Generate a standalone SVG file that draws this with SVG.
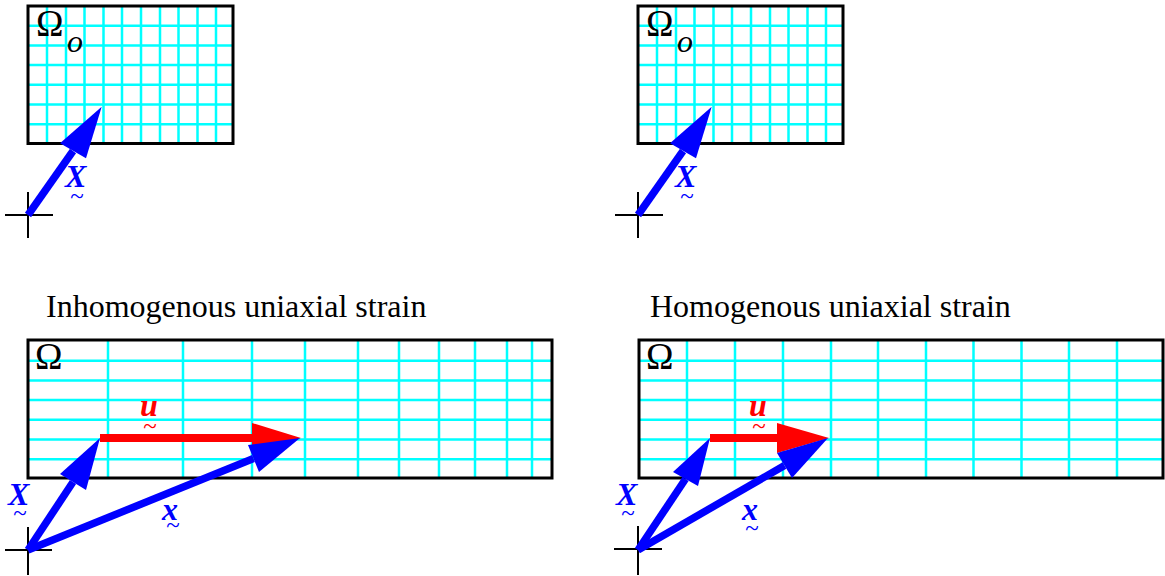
<svg xmlns="http://www.w3.org/2000/svg" width="1165" height="576" viewBox="0 0 1165 576">
<style>
.grid{stroke:#00ffff;stroke-width:2.5;fill:none}
.box{stroke:#000;stroke-width:3;fill:none}
.axis{stroke:#000;stroke-width:2;fill:none}
.bshaft{stroke:#0000ff;stroke-width:7.5;fill:none;stroke-linecap:butt}
.rshaft{stroke:#ff0000;stroke-width:8;fill:none}
.bhead{fill:#0000ff}
.rhead{fill:#ff0000}
.title{font-family:"Liberation Serif",serif;font-size:32px;fill:#000}
.omega{font-family:"Liberation Serif",serif;font-size:37px;fill:#000}
.sub{font-family:"Liberation Serif",serif;font-size:32px;font-style:italic;fill:#000}
.vb{font-family:"Liberation Serif",serif;font-size:32px;font-style:italic;font-weight:bold;fill:#0000ff}
.vr{font-family:"Liberation Serif",serif;font-size:32px;font-style:italic;font-weight:bold;fill:#ff0000}
.tl{font-size:25px;font-style:normal;font-weight:normal;text-anchor:middle}
</style>
<rect width="1165" height="576" fill="#fff"/>

<g id="ref-left">
  <g class="grid">
    <path d="M47,6V143M66,6V143M84.5,6V143M103.5,6V143M122,6V143M141,6V143M160,6V143M178.5,6V143M197.5,6V143M216,6V143"/>
    <path d="M28,25.7H233M28,45.4H233M28,65.1H233M28,84.8H233M28,104.5H233M28,124.2H233"/>
  </g>
  <rect class="box" x="28" y="6" width="205" height="137.5"/>
  <text class="omega" x="36" y="36">Ω<tspan class="sub" x="67" y="52">o</tspan></text>
</g>

<g id="ref-right">
  <g class="grid">
    <path d="M657,6V143M676,6V143M694.5,6V143M713.5,6V143M732,6V143M751,6V143M770,6V143M788.5,6V143M807.5,6V143M826,6V143"/>
    <path d="M638,25.7H843M638,45.4H843M638,65.1H843M638,84.8H843M638,104.5H843M638,124.2H843"/>
  </g>
  <rect class="box" x="638" y="6" width="205" height="137.5"/>
  <text class="omega" x="646" y="36">Ω<tspan class="sub" x="677" y="52">o</tspan></text>
</g>

<g id="inhomog">
  <text class="title" x="46" y="317">Inhomogenous uniaxial strain</text>
  <g class="grid">
    <path d="M108,340V478M183,340V478M252,340V478M305,340V478M358,340V478M399,340V478M439,340V478M475,340V478M507,340V478M532,340V478"/>
    <path d="M28,360.7H552M28,380.4H552M28,400.1H552M28,419.8H552M28,439.5H552M28,459.2H552"/>
  </g>
  <rect class="box" x="28" y="340" width="524" height="138"/>
  <text class="omega" x="35" y="369">Ω</text>
</g>

<g id="homog">
  <text class="title" x="650" y="317">Homogenous uniaxial strain</text>
  <g class="grid">
    <path d="M687,340V478M735,340V478M783,340V478M831,340V478M878,340V478M926,340V478M973.5,340V478M1021.5,340V478M1069,340V478M1117,340V478"/>
    <path d="M639,360.7H1163M639,380.4H1163M639,400.1H1163M639,419.8H1163M639,439.5H1163M639,459.2H1163"/>
  </g>
  <rect class="box" x="639" y="340" width="524" height="138"/>
  <text class="omega" x="646" y="369">Ω</text>
</g>

<g id="axes">
  <path class="axis" d="M5,215H53M28,192V238"/>
  <path class="axis" d="M615,215H663M638,192V238"/>
  <path class="axis" d="M5,550H52M28,527V575"/>
  <path class="axis" d="M614,549H662M638,526V575"/>
</g>

<g id="connectors">
  <path class="bshaft" d="M28,215L73,151"/>
  <polygon class="bhead" points="101.7,106.7 60,143.3 86,158.3"/>
  <path class="bshaft" d="M638,215L683,151"/>
  <polygon class="bhead" points="711.7,106.7 670,143.3 696,158.3"/>

  <path class="rshaft" d="M100,438H253"/>
  <polygon class="rhead" points="252,423 301,438 252,453"/>
  <path class="bshaft" d="M28,550L73,482"/>
  <polygon class="bhead" points="100,438 60,474 86,490"/>
  <path class="bshaft" d="M28,550L253.5,458.5"/>
  <polygon class="bhead" points="300,438 248,445 259,472"/>

  <path class="rshaft" d="M710,438H778"/>
  <polygon class="rhead" points="777,423 829,438 777,453"/>
  <path class="bshaft" d="M638,550L685.5,479"/>
  <polygon class="bhead" points="710,438 673,472 698,486"/>
  <path class="bshaft" d="M638,550L784.5,465.5"/>
  <polygon class="bhead" points="828,438 777,453 792,478"/>
</g>

<g id="labels">
  <text class="vb" x="65" y="187">X<tspan class="tl" x="77" y="204">~</tspan></text>
  <text class="vb" x="675" y="187">X<tspan class="tl" x="687" y="204">~</tspan></text>

  <text class="vr" x="140" y="416">u<tspan class="tl" x="150" y="434">~</tspan></text>
  <text class="vb" x="8" y="505">X<tspan class="tl" x="20" y="521">~</tspan></text>
  <text class="vb" x="162" y="520">x<tspan class="tl" x="173" y="533">~</tspan></text>

  <text class="vr" x="749" y="416">u<tspan class="tl" x="759" y="434">~</tspan></text>
  <text class="vb" x="616" y="505">X<tspan class="tl" x="628" y="521">~</tspan></text>
  <text class="vb" x="742" y="520">x<tspan class="tl" x="752" y="536">~</tspan></text>
</g>
</svg>
